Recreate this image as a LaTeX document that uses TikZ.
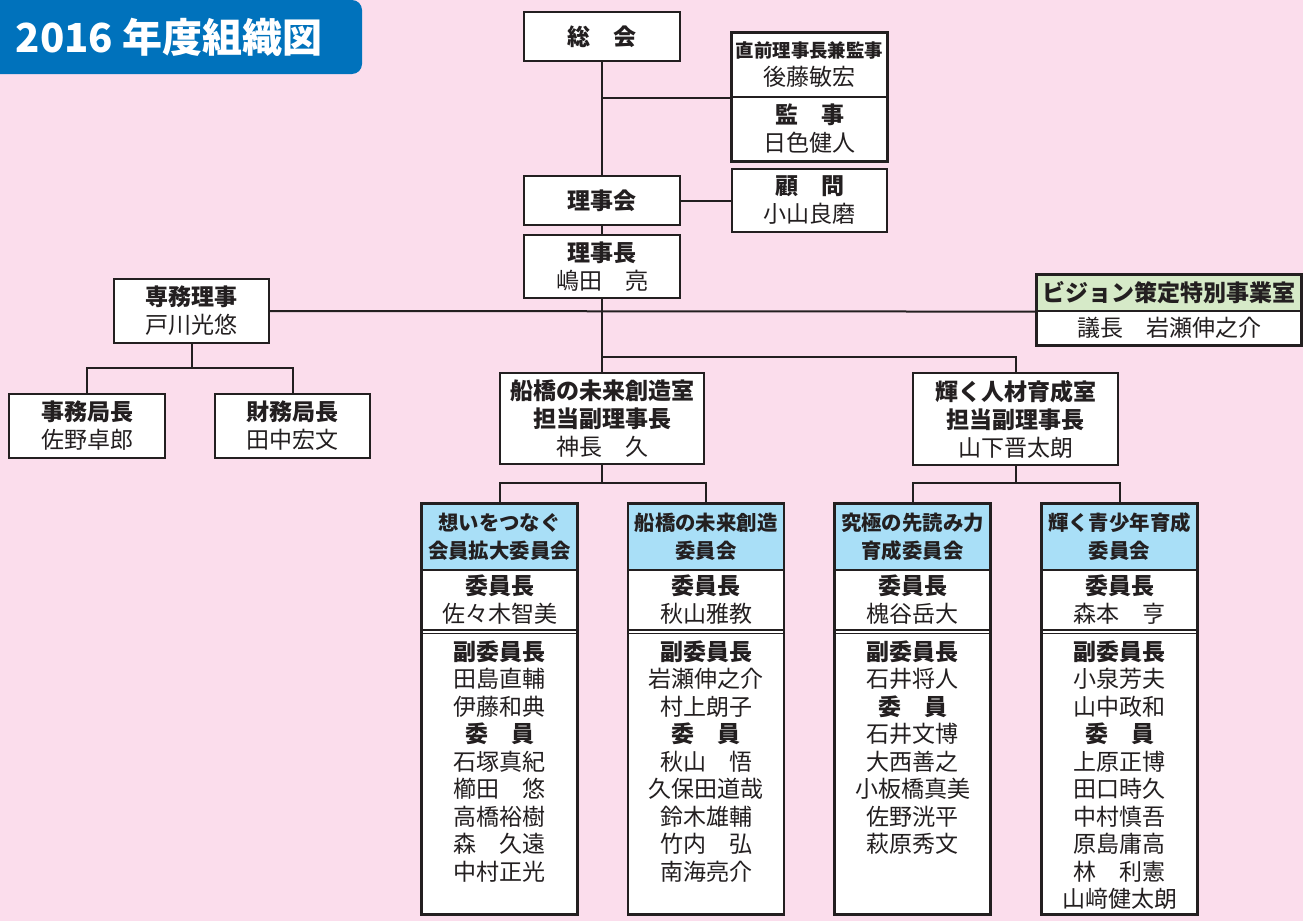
\documentclass[tikz,border=0pt]{standalone}
\usepackage{fontspec}
\setmainfont{Noto Sans CJK JP}
\usepackage{tikz}
\usetikzlibrary{calc}
\newdimen\pxu \pxu=0.5pt
\definecolor{mypink}{RGB}{251, 221, 236}
\definecolor{myblue}{RGB}{0, 114, 188}
\definecolor{mysky}{RGB}{169, 223, 247}
\definecolor{mygreen}{RGB}{214, 234, 200}
\definecolor{myline}{RGB}{35, 31, 32}
\tikzset{
  sect/.style = {draw = myline, line width = 0.6pt, fill = white, inner sep = 0pt, align = center,
    text = myline, minimum width = 155\pxu, font = \fontsize{11.5}{14}\selectfont},
  kbox/.style = {sect, line width = 1.2pt},
  frame/.style = {draw = myline, line width = 1.2pt},
  conn/.style = {draw = myline, line width = 1pt},
  head/.style = {sect, fill = mysky, minimum height = 66\pxu, font = \fontsize{10.2}{14}\selectfont\bfseries},
  chair/.style = {sect, minimum height = 60\pxu},
  memb/.style = {sect, minimum height = 284\pxu},
  list/.style = {anchor = north, inner sep = 0pt, align = center, text = myline, font = \fontsize{11.5}{13.75}\selectfont},
  titlebox/.style = {fill = myblue, rounded corners = 5pt, text = white, minimum width = 386\pxu,
    minimum height = 74\pxu, font = \fontsize{20}{20}\selectfont\bfseries}
}

\begin{document}
\begin{tikzpicture}[x = 0.5pt, y = -0.5pt]
\useasboundingbox (0, 0) rectangle (1303, 921);
\fill[mypink] (0, 0) rectangle (1303, 921);

\node[titlebox] (title) at (169, 37) {2016 年度組織図};

% top
\node[kbox, minimum width = 156\pxu, minimum height = 49\pxu] (sokai) at (602, 36.5) {\textbf{総　会}};
\node[sect, minimum height = 64\pxu] (kanji1) at (809.5, 65) {{\fontsize{9.2}{14}\selectfont\textbf{直前理事長兼監事}}\\後藤敏宏};
\node[sect, minimum height = 64\pxu] (kanji2) at (809.5, 129) {\textbf{監　事}\\日色健人};
\draw[frame] (kanji1.north west) rectangle (kanji2.south east);
\node[kbox, minimum width = 156\pxu, minimum height = 49\pxu] (rijikai) at (602, 200.5) {\textbf{理事会}};
\node[kbox, minimum height = 63\pxu] (komon) at (809.5, 200.5) {\textbf{顧　問}\\小山良磨};
\node[kbox, minimum width = 156\pxu, minimum height = 63\pxu] (rijicho) at (602, 266.5) {\textbf{理事長}\\嶋田　亮};

% left
\node[kbox, minimum height = 64\pxu] (senmu) at (191.5, 311) {\textbf{専務理事}\\戸川光悠};
\node[kbox, minimum width = 156\pxu, minimum height = 64\pxu] (jimu) at (87, 426) {\textbf{事務局長}\\佐野卓郎};
\node[kbox, minimum height = 64\pxu] (zaimu) at (292.5, 426) {\textbf{財務局長}\\田中宏文};

% right
\node[sect, fill = mygreen, minimum width = 264\pxu, minimum height = 36\pxu] (vision1) at (1169, 293) {\textbf{ビジョン策定特別事業室}};
\node[sect, minimum width = 264\pxu, minimum height = 34\pxu] (vision2) at (1169, 328) {議長　岩瀬伸之介};
\draw[frame] (vision1.north west) rectangle (vision2.south east);

% rooms
\node[kbox, minimum width = 204\pxu, minimum height = 91\pxu] (funa) at (602, 418.5) {\textbf{船橋の未来創造室}\\\textbf{担当副理事長}\\神長　久};
\node[kbox, minimum width = 205\pxu, minimum height = 92\pxu] (kaga) at (1015.5, 419) {\textbf{輝く人材育成室}\\\textbf{担当副理事長}\\山下晋太朗};

% committees
\node[head] (c1h) at (499.5, 537) {想いをつなぐ\\会員拡大委員会};
\node[chair] (c1c) at (499.5, 600) {\textbf{委員長}\\佐々木智美};
\node[memb] (c1m) at (499.5, 772) {};
\draw[line width = 0.6pt, myline] ([yshift = -2pt]c1m.north west) -- ([yshift = -2pt]c1m.north east);
\node[list] (c1l) at (499.5, 640) {\textbf{副委員長}\\田島直輔\\伊藤和典\\\textbf{委　員}\\石塚真紀\\櫛田　悠\\高橋裕樹\\森　久遠\\中村正光};
\draw[frame] (c1h.north west) rectangle (c1m.south east);

\node[head] (c2h) at (706, 537) {船橋の未来創造\\委員会};
\node[chair] (c2c) at (706, 600) {\textbf{委員長}\\秋山雅教};
\node[memb] (c2m) at (706, 772) {};
\draw[line width = 0.6pt, myline] ([yshift = -2pt]c2m.north west) -- ([yshift = -2pt]c2m.north east);
\node[list] (c2l) at (706, 640) {\textbf{副委員長}\\岩瀬伸之介\\村上朗子\\\textbf{委　員}\\秋山　悟\\久保田道哉\\鈴木雄輔\\竹内　弘\\南海亮介};
\draw[frame] (c2h.north west) rectangle (c2m.south east);

\node[head] (c3h) at (912.5, 537) {究極の先読み力\\育成委員会};
\node[chair] (c3c) at (912.5, 600) {\textbf{委員長}\\槐谷岳大};
\node[memb] (c3m) at (912.5, 772) {};
\draw[line width = 0.6pt, myline] ([yshift = -2pt]c3m.north west) -- ([yshift = -2pt]c3m.north east);
\node[list] (c3l) at (912.5, 640) {\textbf{副委員長}\\石井将人\\\textbf{委　員}\\石井文博\\大西善之\\小板橋真美\\佐野洸平\\萩原秀文};
\draw[frame] (c3h.north west) rectangle (c3m.south east);

\node[head] (c4h) at (1119.5, 537) {輝く青少年育成\\委員会};
\node[chair] (c4c) at (1119.5, 600) {\textbf{委員長}\\森本　亨};
\node[memb] (c4m) at (1119.5, 772) {};
\draw[line width = 0.6pt, myline] ([yshift = -2pt]c4m.north west) -- ([yshift = -2pt]c4m.north east);
\node[list] (c4l) at (1119.5, 640) {\textbf{副委員長}\\小泉芳夫\\山中政和\\\textbf{委　員}\\上原正博\\田口時久\\中村慎吾\\原島庸高\\林　利憲\\山﨑健太朗};
\draw[frame] (c4h.north west) rectangle (c4m.south east);

% connectors
\coordinate (sbr) at (191.5, 368);
\coordinate (mbr) at (602, 357);
\coordinate (fbr) at (602, 483);
\coordinate (kbr) at (1015.5, 483);
\draw[conn] (sokai.south) -- (rijikai.north);
\draw[conn] (sokai.south |- kanji1.south west) -- (kanji1.south west);
\draw[conn] (rijikai.east) -- (komon.west);
\draw[conn] (rijikai.south) -- (rijicho.north);
\draw[conn] (rijicho.south) -- (funa.north);
\draw[conn] (senmu.east) -- (vision1.south west);
\draw[conn] (senmu.south) -- (sbr);
\draw[conn] (jimu.north) |- (sbr) -| (zaimu.north);
\draw[conn] (mbr) -| (kaga.north);
\draw[conn] (funa.south) -- (fbr);
\draw[conn] (c1h.north) |- (fbr) -| (c2h.north);
\draw[conn] (kaga.south) -- (kbr);
\draw[conn] (c3h.north) |- (kbr) -| (c4h.north);
\end{tikzpicture}
\end{document}
